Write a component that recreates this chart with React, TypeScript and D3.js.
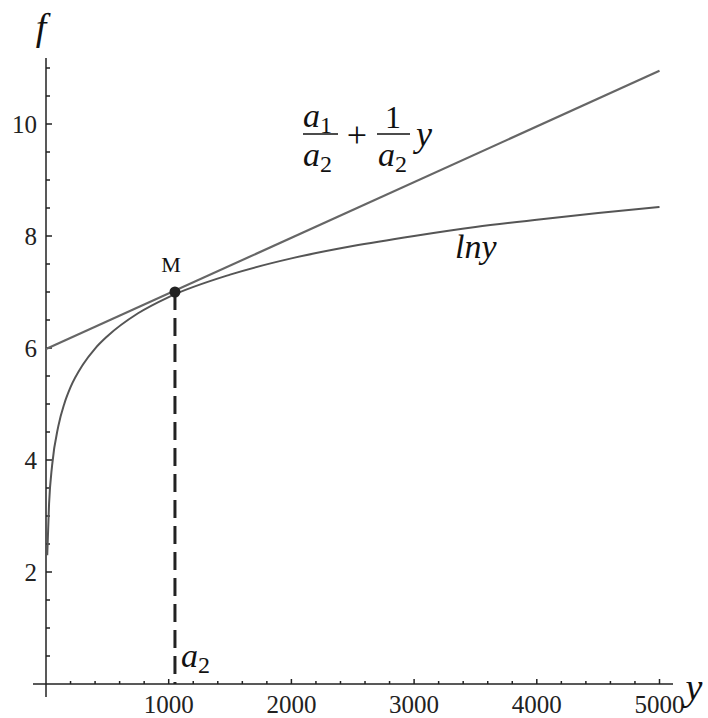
import React from "react";
import * as d3 from "d3";

// ln y curve
const lnY = [10, 25, 50, 100, 150, 200, 300, 400, 500, 750, 1000, 1500, 2000, 2500, 3000, 3500, 4000, 4500, 5000];
const lnF = [2.3, 3.22, 3.91, 4.6, 5.01, 5.3, 5.7, 5.99, 6.21, 6.62, 6.91, 7.31, 7.6, 7.82, 8.0, 8.16, 8.29, 8.41, 8.52];

// tangent line a1/a2 + y/a2
const lineY = [0, 5000];
const lineF = [5.98, 10.95];

// point M
const mY = 1051;
const mF = 7.0;

const xMajor = [1000, 2000, 3000, 4000, 5000];
const fMajor = [2, 4, 6, 8, 10];

const W = 708;
const H = 718;
const serif = "'Liberation Serif', 'Times New Roman', serif";

export default function App() {
  const x = d3.scaleLinear().domain([0, 5000]).range([46, 659.5]);
  const y = d3.scaleLinear().domain([0, 10]).range([684, 124]);

  const lnPts = lnY.map((v, i) => [v, lnF[i]] as [number, number]);
  const linePts = lineY.map((v, i) => [v, lineF[i]] as [number, number]);

  const path = d3
    .line<[number, number]>()
    .x((d) => x(d[0]))
    .y((d) => y(d[1]))
    .curve(d3.curveMonotoneX);

  // minor ticks every 200 on y, every 0.5 on f
  const xMinor = d3.range(200, 5001, 200).filter((v) => v % 1000 !== 0);
  const fMinor = d3.range(0.5, 11.01, 0.5).filter((v) => v % 2 !== 0);

  const x0 = x(0);
  const y0 = y(0);

  return (
    <svg width={W} height={H} style={{ position: "absolute", left: 0, top: 0, background: "#fff" }}>
      {/* axes */}
      <g stroke="#222" strokeWidth={1.5}>
        <line x1={33} x2={673} y1={y0} y2={y0} />
        <line x1={x0} x2={x0} y1={697} y2={58} />
        {xMajor.map((v) => (
          <line key={"xM" + v} x1={x(v)} x2={x(v)} y1={y0} y2={y0 - 5} />
        ))}
        {xMinor.map((v) => (
          <line key={"xm" + v} x1={x(v)} x2={x(v)} y1={y0} y2={y0 - 3} />
        ))}
        {fMajor.map((v) => (
          <line key={"fM" + v} x1={x0} x2={x0 + 6} y1={y(v)} y2={y(v)} />
        ))}
        {fMinor.map((v) => (
          <line key={"fm" + v} x1={x0} x2={x0 + 4} y1={y(v)} y2={y(v)} />
        ))}
      </g>

      {/* tick labels */}
      <g fontFamily={serif} fontSize={25} fill="#222">
        {xMajor.map((v) => (
          <text key={"xl" + v} x={x(v)} y={713} textAnchor="middle">
            {v}
          </text>
        ))}
        {fMajor.map((v) => (
          <text key={"fl" + v} x={37} y={y(v)} dy="0.35em" textAnchor="end">
            {v}
          </text>
        ))}
      </g>

      {/* curves */}
      <path d={path(linePts) ?? ""} fill="none" stroke="#666" strokeWidth={2.2} />
      <path d={path(lnPts) ?? ""} fill="none" stroke="#555" strokeWidth={2} />

      {/* a2 dashed drop line and M */}
      <line
        x1={x(mY)}
        x2={x(mY)}
        y1={y(mF)}
        y2={y0}
        stroke="#222"
        strokeWidth={3}
        strokeDasharray="18,8"
      />
      <circle cx={x(mY)} cy={y(mF)} r={5.5} fill="#222" />

      {/* labels */}
      <g fontFamily={serif} fill="#111">
        <text x={41} y={40} fontSize={38} fontStyle="italic" textAnchor="middle">f</text>
        <text x={694} y={700} fontSize={38} fontStyle="italic" textAnchor="middle">y</text>
        <text x={171} y={272} fontSize={22} textAnchor="middle">M</text>
        <text x={181} y={667} fontSize={34} fontStyle="italic">
          a<tspan fontSize={24} fontStyle="normal" dy={6}>2</tspan>
        </text>
        <text x={455} y={258} fontSize={34} fontStyle="italic">lny</text>

        {/* a1/a2 + (1/a2) y */}
        <text x={303} y={127} fontSize={34} fontStyle="italic">
          a<tspan fontSize={24} fontStyle="normal" dy={6}>1</tspan>
        </text>
        <line x1={303} x2={338} y1={134} y2={134} stroke="#111" strokeWidth={1.6} />
        <text x={303} y={166} fontSize={34} fontStyle="italic">
          a<tspan fontSize={24} fontStyle="normal" dy={6}>2</tspan>
        </text>
        <text x={357} y={147} fontSize={36} textAnchor="middle">+</text>
        <text x={393} y={128} fontSize={32} textAnchor="middle">1</text>
        <line x1={377} x2={410} y1={134} y2={134} stroke="#111" strokeWidth={1.6} />
        <text x={378} y={166} fontSize={34} fontStyle="italic">
          a<tspan fontSize={24} fontStyle="normal" dy={6}>2</tspan>
        </text>
        <text x={416} y={146} fontSize={36} fontStyle="italic">y</text>
      </g>
    </svg>
  );
}
